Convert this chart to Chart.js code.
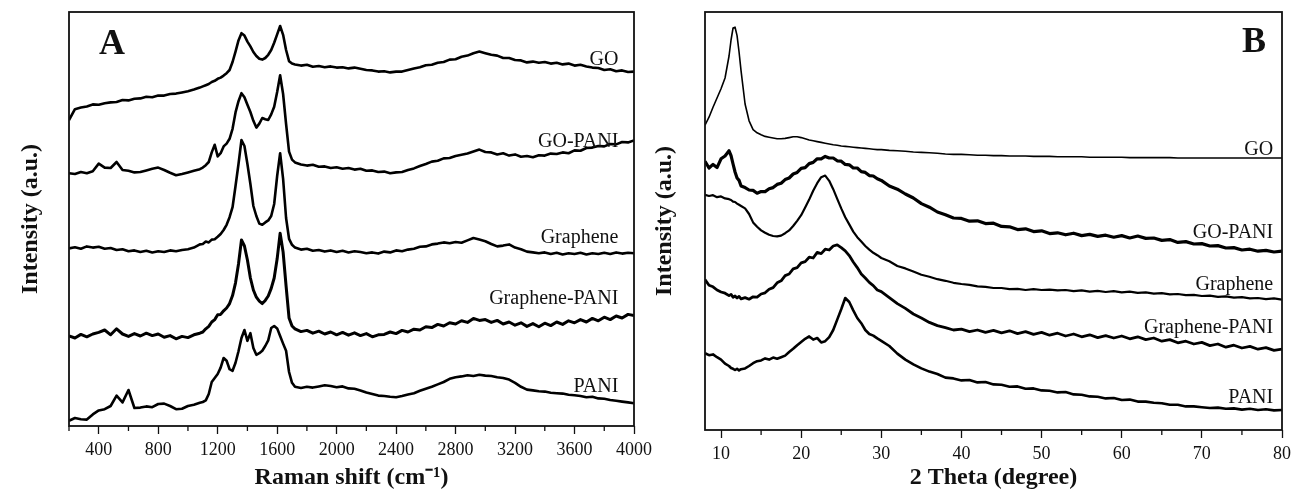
<!DOCTYPE html>
<html lang="en">
<head>
<meta charset="UTF-8" />
<title>Raman and XRD patterns</title>
<script src="https://cdn.jsdelivr.net/npm/chart.js@4.4.0/dist/chart.umd.min.js"></script>
<style>
  body { margin: 0; background: #ffffff; }
  #wrap { position: relative; width: 1294px; height: 490px; overflow: hidden; }
  canvas { position: absolute; top: 0; }
  #ramanChart { left: 0; }
  #xrdChart { left: 645px; }
</style>
</head>
<body>
<div id="wrap">
  <canvas id="ramanChart" width="652" height="490"></canvas>
  <canvas id="xrdChart" width="649" height="490"></canvas>
</div>
<script>
// ---- Panel A: Raman spectra (intensity in a.u., curves offset) ----
const ramanShift = [200,240,280,320,360,400,440,480,520,560,
  600,640,680,720,760,800,840,880,920,960,
  1000,1040,1080,
  1100,1120,1140,1160,1180,1200,1220,1240,1260,1280,
  1300,1320,1340,1360,1380,1400,1420,1440,1460,1480,
  1500,1520,1540,1560,1580,1600,1620,1640,1660,1680,
  1700,1720,
  1760,1800,1840,1880,1920,1960,2000,2040,2080,2120,
  2160,2200,2240,2280,2320,2360,2400,2440,2480,2520,
  2560,2600,2640,2680,2720,2760,2800,2840,2880,2920,
  2960,3000,3040,3080,3120,3160,3200,3240,3280,3320,
  3360,3400,3440,3480,3520,3560,3600,3640,3680,3720,
  3760,3800,3840,3880,3920,3960,4000];

const ramanGO = [76.5,79.2,79.6,79.9,80.4,80.3,80.7,80.9,81.0,81.5,
  81.4,81.8,81.9,82.3,82.2,82.6,82.6,83.0,83.1,83.4,
  83.7,84.1,84.6,
  84.9,85.2,85.5,86.0,86.3,86.8,87.1,87.6,88.2,89.0,
  91.0,93.6,96.4,98.2,97.6,96.1,94.9,93.5,92.5,91.8,
  91.6,92.0,92.8,94.0,95.8,97.9,100.0,97.8,94.0,91.2,
  90.6,90.4,
  90.1,90.3,89.8,90.0,89.7,89.9,89.6,89.7,89.4,89.6,
  89.3,89.0,88.9,88.6,88.7,88.4,88.6,88.6,89.0,89.4,
  89.7,90.2,90.3,90.8,91.0,91.6,91.7,92.3,92.6,93.2,
  93.6,93.2,92.8,92.6,92.0,92.0,91.5,91.4,90.9,91.1,
  90.8,91.0,90.6,90.8,90.4,90.6,90.1,90.3,89.9,89.6,
  89.5,89.0,89.2,88.7,88.9,88.5,88.6];

const ramanGOPANI = [63.2,63.0,63.5,63.2,63.7,65.6,64.6,64.5,66.0,64.0,
  63.8,63.4,63.5,63.9,64.3,64.6,64.0,63.3,62.7,63.0,
  63.4,63.8,64.2,
  64.6,65.2,66.0,68.4,70.3,67.4,68.2,69.9,70.6,71.8,
  74.3,78.4,81.2,83.2,82.2,80.3,78.5,76.3,74.6,75.6,
  77.0,76.7,76.5,77.9,79.8,83.5,87.7,83.0,75.5,68.6,
  66.6,65.9,
  65.4,65.1,65.3,64.8,64.9,64.5,64.7,64.3,64.5,64.1,
  64.3,63.8,63.9,63.5,63.6,63.2,63.4,63.5,64.0,64.4,
  65.0,65.5,66.1,66.3,66.9,67.0,67.5,67.8,68.1,68.6,
  69.1,68.5,68.4,67.9,68.2,67.6,67.9,67.3,67.5,67.2,
  67.7,67.6,68.1,68.0,68.4,68.2,68.9,68.8,69.5,69.6,
  70.0,69.9,70.5,70.4,71.0,70.9,71.4];

const ramanGraphene = [44.4,44.7,44.3,44.9,44.6,44.8,44.3,44.5,44.0,44.2,
  43.7,43.9,43.5,43.8,43.4,43.7,43.5,43.9,43.7,44.0,
  44.2,44.6,45.4,
  45.5,46.1,45.9,46.6,46.7,47.3,48.0,49.0,50.3,52.2,
  54.7,60.0,65.5,71.5,70.0,65.5,60.5,55.0,52.5,50.6,
  50.3,50.9,51.4,52.5,55.5,62.5,68.2,61.8,52.0,46.8,
  45.3,44.6,
  44.1,44.3,43.8,44.0,43.6,43.9,43.5,43.8,43.4,43.7,
  43.5,43.2,43.4,43.1,43.6,43.4,43.9,43.7,44.1,44.3,
  44.8,44.9,45.4,45.6,45.9,45.7,46.0,45.8,46.4,47.0,
  46.6,46.2,45.5,44.9,45.1,45.4,44.6,44.2,43.6,43.4,
  43.2,43.4,43.0,43.3,42.9,43.2,43.0,43.3,42.9,43.2,
  43.0,43.3,43.0,43.4,43.1,43.3,43.2];

const ramanGraphenePANI = [22.5,22.0,22.9,22.3,23.0,23.4,24.0,22.8,24.3,23.0,
  22.4,23.1,22.5,23.2,22.6,23.0,22.2,22.6,21.8,22.4,
  22.1,22.8,23.2,
  23.5,24.3,24.9,26.0,26.6,27.8,27.9,28.8,29.5,30.6,
  32.6,35.8,40.5,46.5,45.0,41.5,37.0,34.0,32.2,31.2,
  30.6,31.4,32.5,34.4,37.0,41.8,48.2,43.5,35.0,27.0,
  25.0,24.3,
  23.6,23.9,23.2,23.7,23.0,23.5,22.8,23.4,22.7,23.3,
  22.6,23.1,22.3,22.8,22.9,23.5,23.1,23.9,23.5,24.2,
  24.0,24.8,24.6,25.4,25.0,25.8,25.5,26.3,25.9,26.9,
  26.4,26.6,25.9,26.4,25.5,26.0,25.2,25.8,24.9,25.6,
  24.8,25.7,25.1,26.0,25.4,26.3,25.8,26.6,26.0,26.9,
  26.3,27.2,26.6,27.5,27.0,27.9,27.6];

const ramanPANI = [1.3,2.0,1.7,1.6,2.9,3.9,4.2,5.0,7.6,5.9,
  9.0,4.5,4.6,4.9,4.7,5.5,5.6,5.0,4.2,4.3,
  5.0,5.3,5.8,
  6.0,6.4,8.0,11.0,12.0,13.0,14.6,17.0,16.3,14.2,
  13.8,15.8,18.7,22.0,24.0,21.3,23.2,19.5,17.8,18.2,
  18.8,20.0,21.4,24.5,25.0,24.4,22.5,20.6,18.8,13.5,
  10.8,9.8,
  9.5,9.8,9.6,9.9,10.2,10.0,9.7,9.9,9.4,9.3,
  8.9,8.4,8.0,7.6,7.5,7.3,7.2,7.5,7.9,8.2,
  8.8,9.3,9.8,10.4,11.0,11.8,12.2,12.4,12.7,12.5,
  12.8,12.6,12.5,12.2,12.0,11.6,10.8,9.8,9.1,8.9,
  8.7,8.6,8.3,8.2,8.1,7.8,7.7,7.5,7.2,7.3,
  6.9,6.8,6.5,6.3,6.1,5.9,5.7];

const ramanTicks = [400,800,1200,1600,2000,2400,2800,3200,3600,4000];
const ramanMinorTicks = [200,600,1000,1400,1800,2200,2600,3000,3400,3800];

// ---- Panel B: XRD patterns ----
const twoTheta = [8,8.5,9,9.5,10,10.5,11,
  11.25,11.5,11.75,12,12.25,12.5,
  13,13.5,14,14.5,15,15.5,16,16.5,17,17.5,
  18,18.5,19,19.5,20,20.5,21,21.5,22,22.5,
  23,23.5,24,24.5,25,25.5,26,26.5,27,27.5,
  28,28.5,29,29.5,30,
  31,32,33,34,35,36,37,38,39,40,
  41,42,43,44,45,46,47,48,49,50,
  51,52,53,54,55,56,57,58,59,60,
  61,62,63,64,65,66,67,68,69,70,
  71,72,73,74,75,76,77,78,79,80];

const xrdGO = [76.2,78.2,80.7,83.0,85.3,88.0,93.5,
  97.5,100.5,100.7,98.6,94.5,89.8,
  81.5,77.3,75.1,74.3,73.8,73.4,73.2,73.0,72.8,72.8,
  72.9,73.1,73.3,73.3,73.1,72.8,72.5,72.3,72.1,71.9,
  71.7,71.5,71.3,71.2,71.0,70.9,70.8,70.7,70.6,70.5,
  70.4,70.3,70.2,70.1,70.1,
  69.9,69.8,69.7,69.5,69.4,69.3,69.2,69.0,68.9,68.9,
  68.8,68.7,68.7,68.6,68.6,68.5,68.5,68.5,68.4,68.4,
  68.4,68.3,68.3,68.3,68.3,68.2,68.2,68.2,68.2,68.2,
  68.1,68.1,68.1,68.1,68.1,68.1,68.0,68.0,68.0,68.0,
  68.0,68.0,68.0,68.0,68.0,68.0,68.0,68.0,68.0,68.0];

const xrdGOPANI = [67.2,65.5,66.4,65.6,67.8,68.5,69.8,
  68.6,66.5,64.5,63.0,62.4,61.0,
  60.6,60.0,59.9,59.2,59.6,59.6,60.3,60.6,61.4,61.7,
  62.6,63.0,64.0,64.4,65.4,65.6,66.6,66.9,67.8,67.8,
  68.4,68.0,68.0,67.3,67.2,66.4,66.3,65.5,65.5,64.6,
  64.4,63.6,63.5,62.8,62.4,
  61.0,60.2,59.0,58.0,56.6,55.7,54.5,53.8,53.0,52.9,
  52.2,52.3,51.6,51.7,50.9,50.8,50.1,50.3,49.6,49.8,
  49.1,49.3,48.8,49.2,48.6,48.9,48.4,48.7,48.2,48.6,
  48.0,48.5,47.9,48.0,47.4,47.6,46.9,47.1,46.5,46.6,
  46.0,46.1,45.5,45.6,45.0,45.2,44.7,44.9,44.5,44.7];

const xrdGraphene = [58.8,58.5,58.7,58.2,58.4,57.9,57.7,
  57.5,57.1,57.0,56.6,56.3,56.0,
  55.4,54.0,51.9,50.8,49.9,49.3,48.8,48.5,48.4,48.6,
  49.2,49.9,51.0,52.3,53.7,55.6,57.6,59.8,61.7,63.2,
  63.6,62.3,60.2,57.8,55.4,53.2,51.4,49.6,48.2,47.1,
  46.0,45.1,44.3,43.7,43.0,
  42.2,41.0,40.4,39.6,38.8,38.3,37.7,37.3,36.8,36.5,
  36.3,35.9,35.8,35.5,35.5,35.2,35.3,35.0,35.2,35.0,
  35.1,34.9,35.0,34.7,34.9,34.6,34.8,34.5,34.7,34.4,
  34.6,34.3,34.4,34.1,34.2,33.9,34.0,33.7,33.8,33.5,
  33.6,33.3,33.4,33.1,33.2,32.9,33.0,32.7,32.9,32.6];

const xrdGraphenePANI = [37.6,36.2,35.8,35.0,34.5,34.2,33.6,
  33.9,33.2,33.5,33.0,33.4,32.8,
  33.1,32.7,33.3,33.2,34.0,34.3,35.2,35.6,36.8,37.3,
  38.6,39.0,40.3,40.6,41.8,42.1,43.2,43.0,44.4,44.1,
  45.2,45.0,46.0,46.3,45.6,44.8,43.6,42.0,40.6,39.0,
  38.0,36.9,36.1,35.0,34.6,
  33.1,31.6,30.4,29.0,28.0,26.9,26.1,25.6,25.0,25.2,
  24.6,25.0,24.4,24.9,24.3,24.8,24.1,24.6,23.9,24.4,
  23.7,24.2,23.5,24.0,23.3,23.8,23.1,23.6,23.0,23.5,
  22.8,23.3,22.6,23.0,22.2,22.6,21.8,22.2,21.5,21.9,
  21.1,21.5,20.7,21.2,20.5,20.9,20.2,20.6,19.9,20.2];

const xrdPANI = [19.2,18.7,18.9,18.2,17.6,16.6,16.0,
  15.5,15.3,15.0,15.3,14.9,15.2,
  15.4,16.0,16.7,17.2,17.4,17.9,17.6,18.1,17.8,18.2,
  18.6,19.5,20.3,21.2,22.0,22.8,23.4,22.6,23.0,21.9,
  22.2,23.2,25.0,27.6,30.2,33.0,32.0,29.9,28.0,26.7,
  25.0,24.0,23.6,22.9,22.3,
  21.0,19.1,17.6,16.4,15.4,14.6,14.0,13.1,12.9,12.4,
  12.5,11.9,12.0,11.4,11.3,10.8,10.9,10.3,10.4,9.9,
  9.8,9.4,9.5,8.9,8.8,8.4,8.3,7.9,8.0,7.5,
  7.6,7.1,7.1,6.8,6.7,6.3,6.3,5.9,5.9,5.7,
  5.5,5.6,5.3,5.4,5.1,5.3,5.0,5.2,4.9,5.0];

const xrdTicks = [10,20,30,40,50,60,70,80];
const xrdMinorTicks = [15,25,35,45,55,65,75];

const sampleNames = ["GO", "GO-PANI", "Graphene", "Graphene-PANI", "PANI"];

// where each curve name sits (data units: x of right edge, y of baseline)
const ramanLabelX = 3895;
const ramanLabelY = [90.25, 69.8, 45.75, 30.4, 8.6];
const xrdLabelX = 78.9;
const xrdLabelY = [68.75, 48, 35.1, 24.25, 6.75];

const serif = "'Liberation Serif', 'Times New Roman', serif";
const ink = "#111";

function line(xs, ys, width) {
  return {
    data: xs.map((x, i) => ({ x: x, y: ys[i] })),
    borderColor: "#000",
    borderWidth: width,
    borderJoinStyle: "round",
    pointRadius: 0,
    fill: false,
    tension: 0,
  };
}

// frame, minor ticks, curve names and panel letter
function overlay(id, minorTicks, labelX, labelY, letter) {
  return {
    id: id,
    afterDatasetsDraw(chart) {
      const { ctx, chartArea: a, scales } = chart;
      ctx.save();
      ctx.strokeStyle = ink;
      ctx.lineWidth = 1.8;
      ctx.strokeRect(a.left, a.top, a.right - a.left, a.bottom - a.top);

      ctx.lineWidth = 1.3;
      ctx.beginPath();
      minorTicks.forEach((v) => {
        const px = scales.x.getPixelForValue(v);
        ctx.moveTo(px, a.bottom);
        ctx.lineTo(px, a.bottom + 5);
      });
      ctx.stroke();

      ctx.fillStyle = ink;
      ctx.font = "20px " + serif;
      ctx.textAlign = "right";
      ctx.textBaseline = "alphabetic";
      sampleNames.forEach((name, i) => {
        ctx.fillText(name, scales.x.getPixelForValue(labelX), scales.y.getPixelForValue(labelY[i]));
      });

      ctx.font = "bold 36px " + serif;
      ctx.textAlign = "center";
      ctx.textBaseline = "middle";
      ctx.fillText(letter.text, scales.x.getPixelForValue(letter.x), scales.y.getPixelForValue(letter.y));
      ctx.restore();
    },
  };
}

function axes(xMin, xMax, yMax, majorTicks, xTitle, yAxisWidth, xAxisHeight, yTitlePad) {
  return {
    x: {
      type: "linear",
      min: xMin,
      max: xMax,
      afterBuildTicks: (s) => { s.ticks = majorTicks.map((v) => ({ value: v })); },
      afterFit: (s) => { s.height = xAxisHeight; s.paddingLeft = 0; s.paddingRight = 0; },
      grid: { drawOnChartArea: false, drawTicks: true, tickLength: 8, color: ink, tickWidth: 1.3 },
      border: { display: false },
      ticks: {
        color: ink,
        padding: 5,
        maxRotation: 0,
        autoSkip: false,
        font: { family: serif, size: 18 },
        callback: (v) => String(v),
      },
      title: {
        display: true,
        text: xTitle,
        color: ink,
        font: { family: serif, size: 24, weight: "bold", lineHeight: 1 },
        padding: { top: 0, bottom: 0 },
      },
    },
    y: {
      min: 0,
      max: yMax,
      afterFit: (s) => { s.width = yAxisWidth; s.paddingTop = 0; s.paddingBottom = 0; },
      grid: { display: false },
      border: { display: false },
      ticks: { display: false },
      title: {
        display: true,
        text: "Intensity (a.u.)",
        color: ink,
        font: { family: serif, size: 24, weight: "bold", lineHeight: 1 },
        padding: { top: yTitlePad, bottom: 0 },
      },
    },
  };
}

const common = {
  responsive: false,
  maintainAspectRatio: false,
  animation: false,
  events: [],
  plugins: { legend: { display: false }, tooltip: { enabled: false } },
};

new Chart(document.getElementById("ramanChart"), {
  type: "line",
  data: {
    datasets: [
      line(ramanShift, ramanGO, 2.6),
      line(ramanShift, ramanGOPANI, 2.6),
      line(ramanShift, ramanGraphene, 2.6),
      line(ramanShift, ramanGraphenePANI, 3),
      line(ramanShift, ramanPANI, 2.6),
    ],
  },
  options: Object.assign({}, common, {
    layout: { padding: { top: 12, right: 18, left: 0, bottom: 0 } },
    scales: axes(200, 4000, 103.5, ramanTicks, "Raman shift (cm\u207B\u00B9)", 69, 64, 19),
  }),
  plugins: [overlay("ramanOverlay", ramanMinorTicks, ramanLabelX, ramanLabelY, { text: "A", x: 489, y: 95.25 })],
});

new Chart(document.getElementById("xrdChart"), {
  type: "line",
  data: {
    datasets: [
      line(twoTheta, xrdGO, 1.6),
      line(twoTheta, xrdGOPANI, 3.2),
      line(twoTheta, xrdGraphene, 2.2),
      line(twoTheta, xrdGraphenePANI, 2.8),
      line(twoTheta, xrdPANI, 2.6),
    ],
  },
  options: Object.assign({}, common, {
    layout: { padding: { top: 12, right: 12, left: 0, bottom: 0 } },
    scales: axes(8, 80, 104.5, xrdTicks, "2 Theta (degree)", 60, 60, 8),
  }),
  plugins: [overlay("xrdOverlay", xrdMinorTicks, xrdLabelX, xrdLabelY, { text: "B", x: 76.5, y: 96.7 })],
});
</script>
</body>
</html>
